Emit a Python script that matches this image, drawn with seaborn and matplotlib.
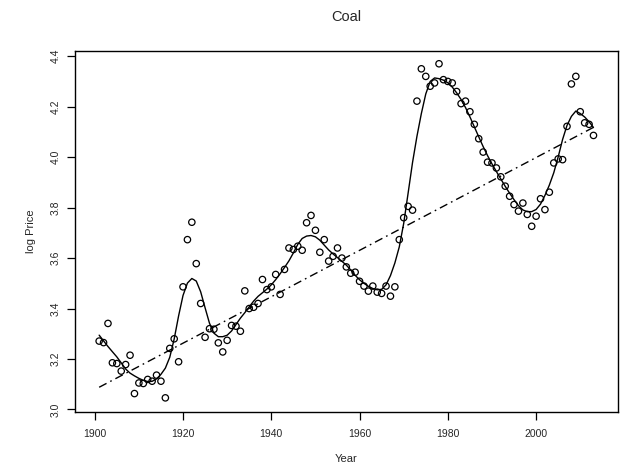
import numpy as np
import pandas as pd
import matplotlib
matplotlib.use("Agg")
import matplotlib.pyplot as plt
import seaborn as sns

# Annual log coal price
years = list(range(1901, 2014))
log_price = [
    3.271, 3.265, 3.341, 3.185, 3.182, 3.152, 3.178, 3.215, 3.063, 3.105,
    3.103, 3.119, 3.112, 3.136, 3.112, 3.046, 3.242, 3.280, 3.189, 3.486,
    3.673, 3.742, 3.578, 3.420, 3.286, 3.320, 3.318, 3.264, 3.228, 3.274,
    3.333, 3.330, 3.310, 3.470, 3.400, 3.405, 3.420, 3.515, 3.475, 3.486,
    3.535, 3.456, 3.555, 3.640, 3.634, 3.647, 3.631, 3.740, 3.769, 3.710,
    3.623, 3.673, 3.588, 3.607, 3.640, 3.600, 3.565, 3.540, 3.544, 3.508,
    3.489, 3.469, 3.489, 3.465, 3.460, 3.489, 3.449, 3.486, 3.673, 3.760,
    3.805, 3.790, 4.222, 4.350, 4.320, 4.281, 4.294, 4.370, 4.307, 4.300,
    4.294, 4.260, 4.212, 4.222, 4.180, 4.130, 4.073, 4.020, 3.980, 3.977,
    3.957, 3.922, 3.885, 3.845, 3.812, 3.786, 3.818, 3.773, 3.726, 3.766,
    3.835, 3.792, 3.861, 3.977, 3.993, 3.990, 4.122, 4.290, 4.320, 4.180,
    4.136, 4.130, 4.086,
]
# Long-run linear trend, end points
trend_years = [1901, 2013]
trend_values = [3.088, 4.118]

x_ticks = [1900, 1920, 1940, 1960, 1980, 2000]
y_ticks = [3.0, 3.2, 3.4, 3.6, 3.8, 4.0, 4.2, 4.4]

df = pd.DataFrame({"Year": years, "logPrice": log_price})
trend = pd.DataFrame({"Year": trend_years, "logPrice": trend_values})


def local_fit(x, y, span):
    """Local linear regression with tricube weights (loess-style)."""
    x = np.asarray(x, float)
    y = np.asarray(y, float)
    n = len(x)
    k = max(3, int(np.ceil(span * n)))
    out = np.empty(n)
    for i, x0 in enumerate(x):
        d = np.abs(x - x0)
        h = np.sort(d)[k - 1] * 1.0001
        w = np.clip(1 - (d / h) ** 3, 0, None) ** 3
        X = np.column_stack([np.ones(n), x - x0])
        W = np.diag(w)
        beta = np.linalg.solve(X.T @ W @ X, X.T @ W @ y)
        out[i] = beta[0]
    return out


df["smooth"] = local_fit(df["Year"], df["logPrice"], 0.08)

sns.set_style("white")
plt.rcParams["font.family"] = ["Liberation Sans", "DejaVu Sans"]

fig = plt.figure(figsize=(6.24, 4.65), dpi=100)
ax = fig.add_axes([0.120, 0.114, 0.870, 0.776])

sns.scatterplot(data=df, x="Year", y="logPrice", ax=ax, marker="o",
                s=21, facecolors="none", edgecolor="black", linewidth=0.9,
                zorder=3)
sns.lineplot(data=df, x="Year", y="smooth", ax=ax, color="black",
             linewidth=1.0, zorder=2)
sns.lineplot(data=trend, x="Year", y="logPrice", ax=ax, color="black",
             linewidth=1.0, linestyle=(0, (6, 3, 1.2, 3)), zorder=2)

ax.set_xlim(1895.5, 2018.5)
ax.set_ylim(2.99, 4.42)
ax.set_xticks(x_ticks)
ax.set_yticks(y_ticks)
ax.set_xticklabels([str(t) for t in x_ticks], fontsize=7.5)
ax.set_yticklabels([f"{t:.1f}" for t in y_ticks], fontsize=7.5,
                   rotation=90, va="center")
ax.tick_params(axis="x", direction="out", length=6, width=0.9,
               color="black", pad=6, bottom=True)
ax.tick_params(axis="y", direction="out", length=6, width=0.9,
               color="black", pad=4, left=True)
for sp in ax.spines.values():
    sp.set_color("black")
    sp.set_linewidth(1.0)

ax.set_xlabel("Year", fontsize=8, labelpad=11)
ax.set_ylabel("log Price", fontsize=8, labelpad=11)
ax.set_title("Coal", fontsize=10.5, pad=22)

fig.savefig("out.png", dpi=100)
